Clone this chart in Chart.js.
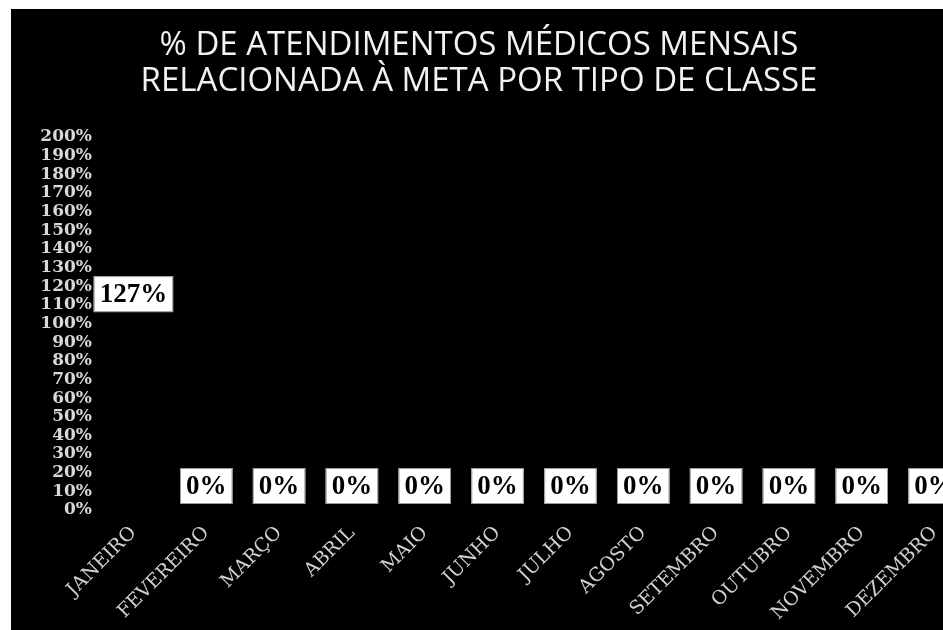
<!DOCTYPE html>
<html>
<head>
<meta charset="utf-8">
<script src="https://cdn.jsdelivr.net/npm/chart.js@4/dist/chart.umd.min.js"></script>
<style>
  html, body { margin: 0; padding: 0; background: #ffffff; overflow: hidden; width: 943px; height: 630px; }
  #wrap { position: absolute; left: 11px; top: 9px; width: 960px; height: 621px; background: #000000; }
  #c { display: block; }
</style>
</head>
<body>
<div id="wrap"><canvas id="c" width="960" height="621"></canvas></div>
<script>
const titleLines = ['% DE ATENDIMENTOS MÉDICOS MENSAIS', 'RELACIONADA À META POR TIPO DE CLASSE'];
const months = ['JANEIRO', 'FEVEREIRO', 'MARÇO', 'ABRIL', 'MAIO', 'JUNHO', 'JULHO', 'AGOSTO', 'SETEMBRO', 'OUTUBRO', 'NOVEMBRO', 'DEZEMBRO'];
const percentOfGoal = [127, 0, 0, 0, 0, 0, 0, 0, 0, 0, 0, 0];
const yMin = 0, yMax = 200, yStep = 10;

const labelBoxes = {
  id: 'labelBoxes',
  afterDatasetsDraw(chart) {
    const ctx = chart.ctx;
    const meta = chart.getDatasetMeta(0);
    const base = chart.scales.y.getPixelForValue(0);
    ctx.save();
    ctx.font = 'bold 27px "Liberation Serif", serif';
    ctx.textAlign = 'center';
    ctx.textBaseline = 'middle';
    meta.data.forEach((bar, i) => {
      const txt = percentOfGoal[i] + '%';
      const w = ctx.measureText(txt).width + 12;
      const h = 36;
      let top = bar.y + 3;
      if (top + h > base - 6) top = base - 6 - h;
      const left = bar.x - w / 2;
      ctx.fillStyle = '#ffffff';
      ctx.fillRect(left, top, w, h);
      ctx.strokeStyle = '#9a9a9a';
      ctx.lineWidth = 1;
      ctx.strokeRect(left + 0.5, top + 0.5, w - 1, h - 1);
      ctx.fillStyle = '#000000';
      ctx.fillText(txt, bar.x, top + h / 2 + 1);
    });
    ctx.restore();
  }
};

new Chart(document.getElementById('c'), {
  type: 'bar',
  data: {
    labels: months,
    datasets: [{
      data: percentOfGoal,
      backgroundColor: '#000000',
      borderWidth: 0,
      categoryPercentage: 0.8,
      barPercentage: 0.9
    }]
  },
  options: {
    responsive: false,
    animation: false,
    layout: { padding: { left: -24, right: 0, top: 0, bottom: 0 } },
    plugins: {
      legend: { display: false },
      tooltip: { enabled: false },
      title: {
        display: true,
        text: titleLines,
        color: '#f2f2f2',
        font: { family: '"Open Sans", sans-serif', size: 33, weight: 'normal', lineHeight: 1.09 },
        padding: { top: 19, bottom: 37 }
      }
    },
    scales: {
      x: {
        grid: { display: false, drawTicks: false },
        border: { display: false },
        ticks: {
          color: '#d0d0d0',
          font: { family: '"DejaVu Serif", serif', size: 19 },
          maxRotation: 45,
          minRotation: 45,
          autoSkip: false,
          padding: 12
        },
        afterFit(scale) { scale.height = 120; }
      },
      y: {
        min: yMin,
        max: yMax,
        grid: { display: false, drawTicks: false },
        border: { display: false },
        ticks: {
          stepSize: yStep,
          autoSkip: false,
          color: '#d8d8d8',
          font: { family: '"DejaVu Serif", serif', size: 17, weight: 'bold' },
          padding: 5,
          callback: v => v + '%'
        },
        afterFit(scale) { scale.width = 110; }
      }
    }
  },
  plugins: [labelBoxes]
});
</script>
</body>
</html>
